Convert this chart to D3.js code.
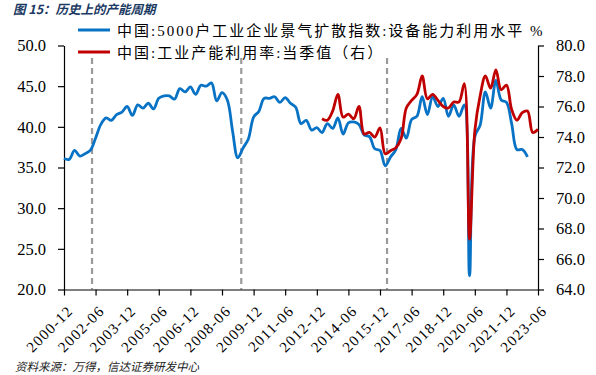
<!DOCTYPE html>
<html>
<head>
<meta charset="utf-8">
<script src="https://cdn.jsdelivr.net/npm/d3@7"></script>
<style>
  html, body { margin: 0; padding: 0; background: #fff; }
  svg { display: block; font-family: "Liberation Serif", "Noto Sans CJK SC", serif; }
</style>
</head>
<body>
<svg id="chart"></svg>
<script>
// quarterly series, first point 2000-12
const blueStart = '2000-12';
const blueValues = [
  36.1, 36.0, 37.1, 36.4, 36.7, 37.1, 38.6, 40.3, 41.1, 40.8,
  41.5, 41.8, 42.5, 41.4, 42.7, 42.3, 42.9, 42.2, 43.5, 43.8,
  43.8, 43.4, 44.7, 44.3, 44.9, 44.0, 45.1, 45.0, 45.4, 43.2,
  44.2, 43.3, 39.5, 36.2, 37.4, 38.5, 41.2, 41.9, 43.5, 43.5,
  43.7, 43.0, 43.6, 42.9, 42.4, 40.4, 40.8, 39.6, 39.9, 39.3,
  40.4, 39.8, 41.1, 39.1, 40.5, 40.6, 40.3, 39.0, 38.8, 37.3,
  37.1, 35.2, 36.3, 37.2, 39.8, 38.6, 40.9, 41.3, 43.7, 41.5,
  43.7, 42.5, 43.5, 41.3, 42.7, 41.3, 42.7, 21.7, 38.8, 40.2,
  44.3, 42.3, 45.7, 43.3, 43.0, 40.4, 37.2, 37.2, 36.3
];
// capacity utilisation, first point 2013-03
const redStart = '2013-03';
const redValues = [
  75.2, 75.1, 75.7, 76.8, 75.3, 75.5, 75.2, 76.0, 74.2, 74.3,
  74.0, 74.6, 72.9, 73.1, 73.3, 73.9, 75.9, 76.4, 76.8, 78.0,
  76.5, 76.8, 76.4, 76.0, 75.9, 76.3, 76.3, 77.5, 67.3, 74.4,
  76.7, 78.0, 77.2, 78.4, 77.1, 77.4, 75.8, 75.1, 75.6, 75.7,
  74.3, 74.5
];
const xTickLabels = ['2000-12', '2002-06', '2003-12', '2005-06', '2006-12', '2008-06',
  '2009-12', '2011-06', '2012-12', '2014-06', '2015-12', '2017-06', '2018-12',
  '2020-06', '2021-12', '2023-06'];
const leftTicks = [20, 25, 30, 35, 40, 45, 50];
const rightTicks = [64, 66, 68, 70, 72, 74, 76, 78, 80];
const cycleMarks = ['2002-04', '2009-05', '2016-04'];

const blueName = '中国:5000户工业企业景气扩散指数:设备能力利用水平 %';
const redName = '中国:工业产能利用率:当季值（右）';

const width = 596;
const height = 375;
const margin = { top: 45.5, right: 58, bottom: 85.5, left: 64 };
const parse = d3.timeParse('%Y-%m');

function toSeries(start, values) {
  const d0 = parse(start);
  return values.map((v, i) => ({ date: d3.timeMonth.offset(d0, i * 3), value: v }));
}
const blue = toSeries(blueStart, blueValues);
const red = toSeries(redStart, redValues);

const svg = d3.select('#chart').attr('width', width).attr('height', height);

const x = d3.scaleTime()
  .domain([parse('2000-12'), parse('2023-06')])
  .range([margin.left, width - margin.right]);
const yL = d3.scaleLinear().domain([20, 50]).range([height - margin.bottom, margin.top]);
const yR = d3.scaleLinear().domain([64, 80]).range([height - margin.bottom, margin.top]);

// title and source
svg.append('text')
  .attr('x', 13).attr('y', 14)
  .attr('font-family', 'Noto Sans CJK SC')
  .attr('font-size', 12.5).attr('font-weight', 'bold').attr('font-style', 'italic')
  .attr('fill', '#1b3a63')
  .text('图 15：历史上的产能周期');

svg.append('text')
  .attr('x', 15).attr('y', 371)
  .attr('font-family', 'Noto Sans CJK SC')
  .attr('font-size', 11.5).attr('font-style', 'italic')
  .attr('fill', '#222')
  .text('资料来源：万得，信达证券研发中心');

// cycle markers
svg.selectAll('.cycle')
  .data(cycleMarks)
  .enter().append('line')
  .attr('class', 'cycle')
  .attr('x1', d => x(parse(d))).attr('x2', d => x(parse(d)))
  .attr('y1', 58).attr('y2', height - margin.bottom)
  .attr('stroke', '#9a9a9a')
  .attr('stroke-width', 2.2)
  .attr('stroke-dasharray', '6,4');

// axes
const axisStyle = g => {
  g.select('.domain').attr('stroke', '#000').attr('stroke-width', 1.2);
  g.selectAll('.tick line').attr('stroke', '#000').attr('stroke-width', 1.2);
  g.selectAll('.tick text')
    .attr('font-family', 'Liberation Serif')
    .attr('font-size', 16.5)
    .attr('fill', '#000');
};

svg.append('g')
  .attr('transform', `translate(${margin.left},0)`)
  .call(d3.axisLeft(yL).tickValues(leftTicks).tickFormat(d3.format('.1f')).tickSize(6).tickSizeOuter(0).tickPadding(12))
  .call(axisStyle);

svg.append('g')
  .attr('transform', `translate(${width - margin.right},0)`)
  .call(d3.axisRight(yR).tickValues(rightTicks).tickFormat(d3.format('.1f')).tickSize(6).tickSizeOuter(0).tickPadding(12))
  .call(axisStyle);

const xAxis = svg.append('g')
  .attr('transform', `translate(0,${height - margin.bottom})`)
  .call(d3.axisBottom(x).tickValues(xTickLabels.map(parse)).tickFormat(d3.timeFormat('%Y-%m')).tickSize(6).tickSizeOuter(0))
  .call(axisStyle);

xAxis.selectAll('.tick text')
  .attr('font-size', 15)
  .attr('letter-spacing', 1.2)
  .attr('text-anchor', 'end')
  .attr('dy', 0)
  .attr('transform', 'translate(3,16) rotate(-45)');

// lines
const lineL = d3.line()
  .x(d => x(d.date)).y(d => yL(d.value))
  .curve(d3.curveCatmullRom.alpha(0.5));
const lineR = d3.line()
  .x(d => x(d.date)).y(d => yR(d.value))
  .curve(d3.curveCatmullRom.alpha(0.5));

svg.append('path')
  .datum(blue)
  .attr('d', lineL)
  .attr('fill', 'none')
  .attr('stroke', '#0872c4')
  .attr('stroke-width', 2.8)
  .attr('stroke-linejoin', 'round');

svg.append('path')
  .datum(red)
  .attr('d', lineR)
  .attr('fill', 'none')
  .attr('stroke', '#c00000')
  .attr('stroke-width', 2.8)
  .attr('stroke-linejoin', 'round');

// legend
const legend = svg.append('g');
const items = [
  { name: blueName, color: '#0872c4', y: 30 },
  { name: redName, color: '#c00000', y: 52 }
];
items.forEach(it => {
  legend.append('line')
    .attr('x1', 78).attr('x2', 110)
    .attr('y1', it.y).attr('y2', it.y)
    .attr('stroke', it.color).attr('stroke-width', 3);
  legend.append('text')
    .attr('x', 117).attr('y', it.y + 5.5)
    .attr('font-size', 15)
    .attr('letter-spacing', 2)
    .attr('fill', '#000')
    .text(it.name);
});
</script>
</body>
</html>
